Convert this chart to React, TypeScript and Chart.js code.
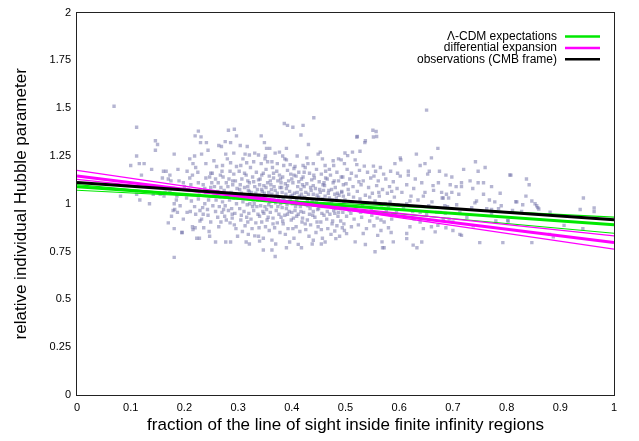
import React, { useEffect, useRef } from 'react';
import { Chart, registerables } from 'chart.js';

Chart.register(...registerables);

// ---- axis ticks ----
const xTickValues = [0, 0.1, 0.2, 0.3, 0.4, 0.5, 0.6, 0.7, 0.8, 0.9, 1];
const xTickLabels = ['0', '0.1', '0.2', '0.3', '0.4', '0.5', '0.6', '0.7', '0.8', '0.9', '1'];
const yTickValues = [0, 0.25, 0.5, 0.75, 1, 1.25, 1.5, 1.75, 2];
const yTickLabels = ['0', '0.25', '0.5', '0.75', '1', '1.25', '1.5', '1.75', '2'];

const xTitle = 'fraction of the line of sight inside finite infinity regions';
const yTitle = 'relative individual Hubble parameter';

// ---- legend names ----
const seriesNames = ['Λ-CDM expectations', 'differential expansion', 'observations (CMB frame)'];

// ---- fitted lines (values at x = 0 and x = 1) ----
const lineX = [0, 1];
const lcdmCentral = [1.089, 0.89];
const lcdmSteep = [1.1, 0.846];
const lcdmShallow = [1.071, 0.93];
const diffCentral = [1.146, 0.798];
const diffSteep = [1.175, 0.763];
const diffShallow = [1.128, 0.832];
const observed = [1.111, 0.917];

// ---- individual objects (x = fraction, y = relative H) ----
const cloudPoints: [number, number][] = [
  // x < 0.15
  [0.069,1.51],[0.081,1.04],[0.100,1.20],[0.111,1.40],[0.111,1.25],[0.116,1.21],[0.125,1.21],[0.120,1.15],
  [0.111,1.05],[0.117,1.02],[0.135,1.00],[0.139,1.18],[0.142,1.05],[0.146,1.33],[0.150,1.31],[0.146,1.28],
  // 0.15 - 0.25
  [0.155,1.05],[0.162,1.04],[0.161,1.17],[0.166,1.17],[0.173,1.15],[0.170,1.13],[0.167,1.08],[0.173,1.06],
  [0.186,1.04],[0.181,1.00],[0.182,0.97],[0.170,0.90],[0.181,0.87],[0.195,0.85],[0.181,0.72],[0.181,1.26],
  [0.154,1.09],[0.164,1.06],[0.179,1.08],[0.185,1.02],[0.179,0.965],[0.187,0.955],[0.175,1.12],[0.198,1.11],
  [0.204,1.03],[0.213,1.015],[0.226,1.025],[0.207,1.075],[0.219,1.07],[0.211,0.96],[0.221,0.945],[0.215,0.88],
  [0.216,0.865],[0.196,0.85],[0.228,0.82],[0.247,0.83],[0.246,0.855],[0.229,0.91],[0.249,0.905],[0.220,0.875],
  [0.223,0.82],[0.232,0.92],[0.205,0.955],[0.229,0.965],[0.219,0.985],[0.234,0.98],[0.215,1.15],[0.210,1.135],
  [0.240,1.135],[0.247,1.14],[0.221,1.19],[0.225,1.165],[0.249,1.16],[0.216,1.21],[0.240,1.21],[0.219,1.25],
  [0.232,1.26],[0.244,1.28],[0.241,1.32],[0.226,1.38],[0.231,1.35],[0.220,1.355],[0.230,1.32],[0.200,1.09],
  [0.190,1.12],[0.235,1.10],[0.240,1.06],[0.228,1.045],[0.245,1.02],[0.238,1.00],[0.243,0.97],[0.235,0.945],
  [0.205,1.17],[0.210,1.235],[0.192,0.99],[0.198,0.92],[0.159,1.135],[0.188,1.18],[0.238,1.08],[0.249,1.085],
  [0.226,1.11],[0.212,1.10],[0.244,0.94],[0.236,0.875],[0.176,0.935],
  // 0.25 - 0.30
  [0.269,1.30],[0.286,1.32],[0.293,1.39],[0.297,1.355],[0.277,1.26],[0.292,1.265],[0.260,1.195],[0.271,1.20],
  [0.286,1.215],[0.297,1.195],[0.252,1.16],[0.264,1.305],[0.276,1.325],[0.282,1.385],[0.270,1.17],[0.285,1.17],
  [0.292,1.155],[0.258,1.13],[0.272,1.14],[0.283,1.13],[0.295,1.12],[0.263,1.11],[0.278,1.11],[0.290,1.10],
  [0.256,1.09],[0.268,1.085],[0.281,1.09],[0.298,1.08],[0.252,1.06],[0.262,1.065],[0.274,1.07],[0.287,1.06],
  [0.296,1.05],[0.255,1.04],[0.266,1.035],[0.279,1.04],[0.291,1.03],[0.259,1.02],[0.271,1.01],[0.284,1.02],
  [0.297,1.00],[0.253,0.99],[0.265,0.985],[0.276,0.99],[0.288,0.975],[0.258,0.96],[0.270,0.955],[0.282,0.965],
  [0.294,0.95],[0.262,0.93],[0.275,0.935],[0.289,0.925],[0.268,0.905],[0.285,0.90],[0.277,0.80],[0.286,0.80],
  [0.258,0.80],[0.264,0.88],[0.296,0.87],[0.299,0.83],[0.280,1.235],[0.255,1.225],[0.293,0.89],
  [0.262,1.045],[0.273,0.97],[0.283,1.055],[0.290,1.12],[0.267,1.15],[0.278,0.915],[0.251,1.11],[0.289,0.945],
  // 0.30 - 0.50 : upper and lower fringe
  [0.441,1.45],[0.386,1.42],[0.392,1.41],[0.402,1.40],[0.421,1.41],[0.417,1.36],[0.343,1.355],[0.349,1.32],
  [0.304,1.305],[0.317,1.30],[0.353,1.29],[0.359,1.29],[0.390,1.29],[0.431,1.31],[0.313,1.26],[0.321,1.255],
  [0.331,1.265],[0.338,1.255],[0.351,1.25],[0.350,1.235],[0.369,1.265],[0.377,1.27],[0.383,1.25],[0.387,1.235],
  [0.410,1.25],[0.428,1.24],[0.449,1.26],[0.457,1.235],[0.477,1.225],[0.487,1.235],[0.309,1.235],[0.316,1.215],
  [0.329,1.22],[0.363,1.22],[0.373,1.21],[0.397,1.205],[0.406,1.195],[0.421,1.20],[0.440,1.21],[0.453,1.27],
  [0.462,1.20],[0.478,1.20],
  [0.331,0.832],[0.340,0.805],[0.347,0.758],[0.412,0.788],[0.418,0.77],[0.440,0.809],[0.482,0.818],[0.480,0.858],
  [0.363,0.758],[0.369,0.724],[0.315,0.80],[0.370,0.79],[0.455,0.79],[0.390,0.77],
  // 0.30 - 0.50 : core
  [0.302,1.17],[0.315,1.15],[0.307,1.13],[0.318,1.12],[0.304,1.10],[0.312,1.085],[0.319,1.07],[0.306,1.055],
  [0.314,1.03],[0.309,1.01],[0.317,0.995],[0.303,0.975],[0.311,0.96],[0.316,0.93],[0.305,0.915],[0.313,0.885],
  [0.308,0.855],[0.319,0.84],
  [0.323,1.19],[0.334,1.165],[0.327,1.14],[0.338,1.125],[0.321,1.11],[0.331,1.09],[0.336,1.075],[0.325,1.06],
  [0.339,1.045],[0.328,1.02],[0.322,1.00],[0.335,0.985],[0.329,0.965],[0.337,0.945],[0.324,0.92],[0.333,0.90],
  [0.326,0.87],[0.338,0.83],[0.321,0.79],
  [0.343,1.21],[0.352,1.18],[0.347,1.16],[0.358,1.145],[0.341,1.13],[0.355,1.11],[0.348,1.095],[0.344,1.075],
  [0.357,1.06],[0.351,1.04],[0.346,1.025],[0.359,1.01],[0.342,0.99],[0.353,0.97],[0.348,0.95],[0.356,0.93],
  [0.344,0.905],[0.351,0.88],[0.358,0.86],[0.347,0.82],
  [0.364,1.19],[0.372,1.17],[0.377,1.15],[0.366,1.135],[0.374,1.12],[0.361,1.10],[0.378,1.085],[0.369,1.07],
  [0.363,1.05],[0.375,1.035],[0.367,1.02],[0.379,1.00],[0.362,0.985],[0.371,0.965],[0.376,0.945],[0.365,0.925],
  [0.373,0.90],[0.368,0.875],[0.378,0.85],[0.363,0.81],
  [0.385,1.20],[0.392,1.175],[0.398,1.155],[0.383,1.14],[0.394,1.12],[0.388,1.105],[0.381,1.085],[0.396,1.065],
  [0.389,1.05],[0.384,1.03],[0.397,1.015],[0.391,0.995],[0.382,0.98],[0.395,0.96],[0.387,0.94],[0.399,0.915],
  [0.384,0.895],[0.393,0.87],[0.388,0.84],[0.396,0.80],
  [0.404,1.185],[0.413,1.165],[0.408,1.145],[0.418,1.13],[0.402,1.11],[0.411,1.09],[0.417,1.075],[0.405,1.055],
  [0.414,1.04],[0.409,1.02],[0.401,1.00],[0.416,0.985],[0.406,0.965],[0.412,0.945],[0.403,0.925],[0.419,0.905],
  [0.408,0.88],[0.415,0.855],[0.404,0.82],
  [0.425,1.19],[0.433,1.16],[0.421,1.14],[0.437,1.125],[0.428,1.105],[0.423,1.09],[0.436,1.07],[0.431,1.05],
  [0.424,1.035],[0.438,1.015],[0.427,0.995],[0.434,0.975],[0.422,0.955],[0.439,0.94],[0.429,0.915],[0.435,0.89],
  [0.426,0.865],[0.432,0.83],[0.438,0.79],
  [0.446,1.18],[0.455,1.155],[0.442,1.135],[0.451,1.115],[0.458,1.10],[0.444,1.08],[0.453,1.06],[0.447,1.045],
  [0.457,1.025],[0.441,1.005],[0.452,0.99],[0.448,0.97],[0.456,0.95],[0.443,0.93],[0.454,0.905],[0.449,0.88],
  [0.445,0.85],[0.457,0.82],
  [0.463,1.17],[0.472,1.15],[0.466,1.13],[0.477,1.11],[0.461,1.095],[0.474,1.075],[0.468,1.055],[0.462,1.04],
  [0.476,1.02],[0.469,1.00],[0.464,0.985],[0.478,0.965],[0.471,0.945],[0.465,0.92],[0.475,0.895],[0.467,0.87],
  [0.473,0.84],[0.462,0.80],
  [0.484,1.165],[0.492,1.14],[0.487,1.12],[0.496,1.10],[0.481,1.085],[0.493,1.065],[0.488,1.045],[0.483,1.03],
  [0.497,1.01],[0.489,0.995],[0.482,0.975],[0.495,0.955],[0.486,0.935],[0.491,0.91],[0.484,0.885],[0.498,0.86],
  [0.489,0.83],
  [0.310,1.045],[0.326,1.035],[0.333,1.055],[0.345,1.065],[0.352,1.085],[0.367,1.09],[0.370,1.04],[0.382,1.06],
  [0.390,1.08],[0.401,1.045],[0.410,1.06],[0.419,1.03],[0.426,1.06],[0.440,1.05],[0.450,1.035],[0.459,1.07],
  [0.470,1.03],[0.480,1.05],[0.318,1.09],[0.340,1.10],[0.360,1.12],[0.380,1.11],[0.400,1.13],[0.420,1.10],
  [0.440,1.095],[0.460,1.11],[0.330,1.00],[0.350,0.985],[0.370,1.005],[0.390,0.975],[0.410,1.00],[0.430,0.99],
  [0.450,0.975],[0.470,0.99],[0.320,0.95],[0.340,0.935],[0.360,0.955],[0.380,0.93],[0.400,0.955],[0.420,0.925],
  [0.440,0.96],[0.460,0.94],[0.480,0.95],[0.305,1.20],[0.355,1.22],[0.390,1.23],[0.430,1.21],[0.470,1.18],
  [0.303,1.075],[0.312,1.16],[0.321,1.065],[0.329,1.115],[0.336,1.02],[0.344,1.15],[0.349,1.055],[0.357,0.995],
  [0.362,1.075],[0.366,1.16],[0.373,1.055],[0.379,1.13],[0.386,1.015],[0.392,1.095],[0.398,1.04],[0.404,1.15],
  [0.407,0.985],[0.413,1.115],[0.418,1.05],[0.423,1.165],[0.429,1.02],[0.435,1.085],[0.441,1.15],[0.446,1.01],
  [0.452,1.075],[0.458,0.985],[0.463,1.135],[0.469,1.07],[0.474,1.005],[0.479,1.12],[0.485,1.055],[0.491,0.975],
  [0.496,1.04],[0.306,0.94],[0.318,0.905],[0.327,0.985],[0.339,0.875],[0.346,0.96],[0.354,0.915],[0.365,0.895],
  [0.374,0.985],[0.383,0.91],[0.392,0.945],[0.402,0.87],[0.409,0.935],[0.417,0.96],[0.425,0.895],[0.433,0.945],
  [0.447,0.905],[0.455,0.865],[0.466,0.96],[0.476,0.91],[0.487,0.955],[0.494,0.875],
  // 0.50 - 0.60
  [0.557,1.378],[0.521,1.349],[0.552,1.349],[0.537,1.33],[0.499,1.266],[0.504,1.252],[0.513,1.27],[0.527,1.275],
  [0.602,1.24],[0.522,1.352],[0.558,1.352],[0.536,1.32],[0.551,1.385],
  [0.492,1.23],[0.498,1.21],[0.518,1.23],[0.521,1.205],[0.535,1.197],[0.552,1.197],[0.565,1.19],[0.592,1.21],
  [0.503,1.18],[0.511,1.16],[0.526,1.175],[0.541,1.165],[0.556,1.17],[0.571,1.155],[0.584,1.17],[0.597,1.16],
  [0.495,1.14],[0.508,1.13],[0.520,1.145],[0.533,1.12],[0.547,1.135],[0.561,1.12],[0.575,1.13],[0.589,1.115],
  [0.501,1.105],[0.514,1.09],[0.529,1.10],[0.543,1.085],[0.558,1.095],[0.569,1.075],[0.582,1.09],[0.596,1.08],
  [0.493,1.06],[0.506,1.05],[0.522,1.065],[0.537,1.045],[0.550,1.055],[0.563,1.04],[0.578,1.055],[0.591,1.035],
  [0.499,1.02],[0.512,1.01],[0.527,1.025],[0.541,1.005],[0.555,1.015],[0.567,0.995],[0.583,1.01],[0.598,0.995],
  [0.494,0.98],[0.507,0.965],[0.519,0.975],[0.534,0.96],[0.548,0.97],[0.561,0.95],[0.576,0.965],[0.588,0.945],
  [0.502,0.935],[0.516,0.92],[0.530,0.93],[0.545,0.91],[0.559,0.925],[0.572,0.905],[0.586,0.92],
  [0.497,0.895],[0.511,0.88],[0.524,0.89],[0.539,0.87],[0.553,0.885],[0.566,0.86],[0.580,0.875],
  [0.502,0.844],[0.533,0.845],[0.560,0.835],[0.585,0.85],
  [0.518,0.801],[0.537,0.787],[0.555,0.749],[0.569,0.77],[0.568,0.801],[0.589,0.801],[0.572,0.77],
  [0.505,1.075],[0.515,1.035],[0.525,1.115],[0.532,0.995],[0.545,1.035],[0.553,1.145],[0.562,1.06],[0.574,1.00],
  [0.586,1.065],[0.595,0.96],[0.510,0.95],[0.528,0.955],[0.549,0.94],[0.566,0.915],[0.580,0.98],
  // 0.60 - 0.70
  [0.639,1.20],[0.648,1.21],[0.656,1.17],[0.653,1.155],[0.617,1.17],[0.617,1.15],[0.602,1.145],[0.630,1.13],
  [0.642,1.11],[0.663,1.095],[0.673,1.11],[0.614,1.10],[0.627,1.08],[0.648,1.06],[0.664,1.07],[0.614,1.00],
  [0.639,0.955],[0.651,0.945],[0.670,0.955],[0.661,1.01],[0.639,0.905],[0.672,0.887],[0.645,0.87],[0.614,0.845],
  [0.633,0.77],[0.642,0.80],[0.614,0.818],[0.626,0.784],[0.667,0.853],[0.651,1.49],[0.672,1.29],
  [0.605,1.06],[0.622,1.04],[0.635,1.02],[0.608,0.98],[0.625,0.96],[0.655,0.99],[0.610,0.93],[0.628,0.92],
  [0.655,0.915],[0.620,0.88],[0.680,1.03],[0.603,1.23],[0.632,1.26],[0.660,1.24],[0.675,1.17],[0.620,1.015],
  [0.645,1.04],[0.660,0.88],
  // 0.68 - 1.0
  [0.742,1.22],[0.747,1.17],[0.687,1.15],[0.698,1.14],[0.808,1.15],[0.837,1.13],[0.842,1.10],[0.716,1.11],
  [0.716,1.09],[0.732,1.12],[0.747,1.11],[0.757,1.11],[0.706,1.09],[0.772,1.09],[0.737,1.08],[0.679,1.06],
  [0.688,1.05],[0.698,1.06],[0.711,1.05],[0.757,1.05],[0.788,1.055],[0.836,1.04],[0.682,1.03],[0.692,1.03],
  [0.744,1.015],[0.741,1.005],[0.778,1.01],[0.819,1.01],[0.847,1.015],[0.853,1.00],[0.858,0.98],[0.685,0.99],
  [0.690,0.985],[0.707,0.995],[0.735,0.98],[0.763,0.975],[0.772,0.97],[0.785,0.975],[0.811,0.965],[0.828,0.96],
  [0.676,0.955],[0.686,0.95],[0.713,0.955],[0.682,0.915],[0.693,0.92],[0.700,0.905],[0.687,0.875],[0.713,0.84],
  [0.716,0.835],[0.738,0.885],[0.772,0.948],[0.803,0.91],[0.750,0.797],[0.793,0.797],[0.847,0.797],[0.943,1.03],
  [0.963,0.978],[0.963,0.959],[0.937,0.97],[0.942,0.87],[0.907,0.887],[0.881,0.956],[0.887,0.827],[0.880,0.84],
  [0.856,0.99],[0.860,0.973],[0.817,1.011],[0.806,1.151],[0.802,0.913],[0.780,0.91],[0.726,0.93],[0.700,0.86],
  [0.695,1.10],[0.720,1.18],[0.760,1.19],[0.768,1.02],[0.790,0.99],[0.830,0.995],
];

const FONT = '"Liberation Sans", Arial, Helvetica, sans-serif';
const GREEN = '#00e800';
const MAGENTA = '#ff00ff';
const BLACK = '#000000';

const twoPoint = (vals: number[]) => lineX.map((x, i) => ({ x, y: vals[i] }));

const legendEntries = [
  { label: seriesNames[0], color: GREEN },
  { label: seriesNames[1], color: MAGENTA },
  { label: seriesNames[2], color: BLACK },
];

const framePlugin = {
  id: 'frame',
  afterDraw(chart: any) {
    const { ctx, chartArea: a } = chart;
    ctx.save();
    ctx.strokeStyle = '#222';
    ctx.lineWidth = 1;
    ctx.strokeRect(Math.round(a.left) - 0.5, Math.round(a.top) - 0.5, Math.round(a.right - a.left) + 1, Math.round(a.bottom - a.top) + 1);
    ctx.restore();
  },
};

const legendPlugin = {
  id: 'cornerLegend',
  afterDraw(chart: any) {
    const { ctx, chartArea: a } = chart;
    ctx.save();
    ctx.font = `12px ${FONT}`;
    ctx.textAlign = 'right';
    ctx.textBaseline = 'middle';
    legendEntries.forEach((e, i) => {
      const y = a.top + 24 + i * 11.3;
      ctx.fillStyle = '#000';
      ctx.fillText(e.label, a.right - 57, y);
      ctx.strokeStyle = e.color;
      ctx.lineWidth = 2.5;
      ctx.beginPath();
      ctx.moveTo(a.right - 49, y);
      ctx.lineTo(a.right - 14, y);
      ctx.stroke();
    });
    ctx.restore();
  },
};

export default function App() {
  const ref = useRef<HTMLCanvasElement | null>(null);

  useEffect(() => {
    if (!ref.current) return;
    const lineDs = (label: string, vals: number[], color: string, width: number) => ({
      label,
      data: twoPoint(vals),
      showLine: true,
      borderColor: color,
      backgroundColor: color,
      borderWidth: width,
      pointRadius: 0,
      pointHoverRadius: 0,
      fill: false,
    });
    const chart = new Chart(ref.current, {
      type: 'scatter',
      data: {
        datasets: [
          lineDs(seriesNames[2], observed, BLACK, 3),
          lineDs(seriesNames[1], diffCentral, MAGENTA, 3),
          lineDs(seriesNames[1] + ' (upper)', diffSteep, MAGENTA, 1.2),
          lineDs(seriesNames[1] + ' (lower)', diffShallow, MAGENTA, 1.2),
          lineDs(seriesNames[0], lcdmCentral, GREEN, 3),
          lineDs(seriesNames[0] + ' (upper)', lcdmSteep, GREEN, 1.2),
          lineDs(seriesNames[0] + ' (lower)', lcdmShallow, GREEN, 1.2),
          {
            label: 'objects',
            data: cloudPoints.map(([x, y]) => ({ x, y })),
            pointStyle: 'rect',
            pointRadius: 2.4,
            pointHoverRadius: 2.4,
            borderWidth: 0,
            backgroundColor: 'rgba(100,100,160,0.48)',
            showLine: false,
          } as any,
        ],
      },
      options: {
        responsive: false,
        animation: false,
        devicePixelRatio: 1,
        layout: { padding: { top: 7, right: 25, left: 0, bottom: 0 } },
        plugins: { legend: { display: false }, tooltip: { enabled: false } },
        scales: {
          x: {
            type: 'linear',
            min: 0,
            max: 1,
            grid: { display: false, drawTicks: false },
            border: { display: false },
            afterBuildTicks: (s: any) => { s.ticks = xTickValues.map((v) => ({ value: v })); },
            afterFit: (s: any) => { s.height = 46; },
            ticks: {
              padding: 6,
              color: '#000',
              font: { family: FONT, size: 11 },
              maxRotation: 0,
              autoSkip: false,
              callback: (v: any) => { const i = xTickValues.indexOf(Number(v)); return i >= 0 ? xTickLabels[i] : ''; },
            },
            title: { display: true, text: xTitle, color: '#000', font: { family: FONT, size: 17 }, padding: { top: 0, bottom: 5 } },
          },
          y: {
            type: 'linear',
            min: 0,
            max: 2,
            grid: { display: false, drawTicks: false },
            border: { display: false },
            afterBuildTicks: (s: any) => { s.ticks = yTickValues.map((v) => ({ value: v })); },
            afterFit: (s: any) => { s.width = 77; },
            ticks: {
              padding: 6,
              color: '#000',
              font: { family: FONT, size: 11 },
              autoSkip: false,
              callback: (v: any) => { const i = yTickValues.indexOf(Number(v)); return i >= 0 ? yTickLabels[i] : ''; },
            },
            title: { display: true, text: yTitle, color: '#000', font: { family: FONT, size: 17 }, padding: { top: 11, bottom: 0 } },
          },
        },
      },
      plugins: [framePlugin, legendPlugin],
    } as any);
    return () => chart.destroy();
  }, []);

  return (
    <div style={{ position: 'fixed', left: 0, top: 0, width: 639, height: 441, background: '#fff' }}>
      <canvas ref={ref} width={639} height={441} style={{ display: 'block' }} />
    </div>
  );
}
